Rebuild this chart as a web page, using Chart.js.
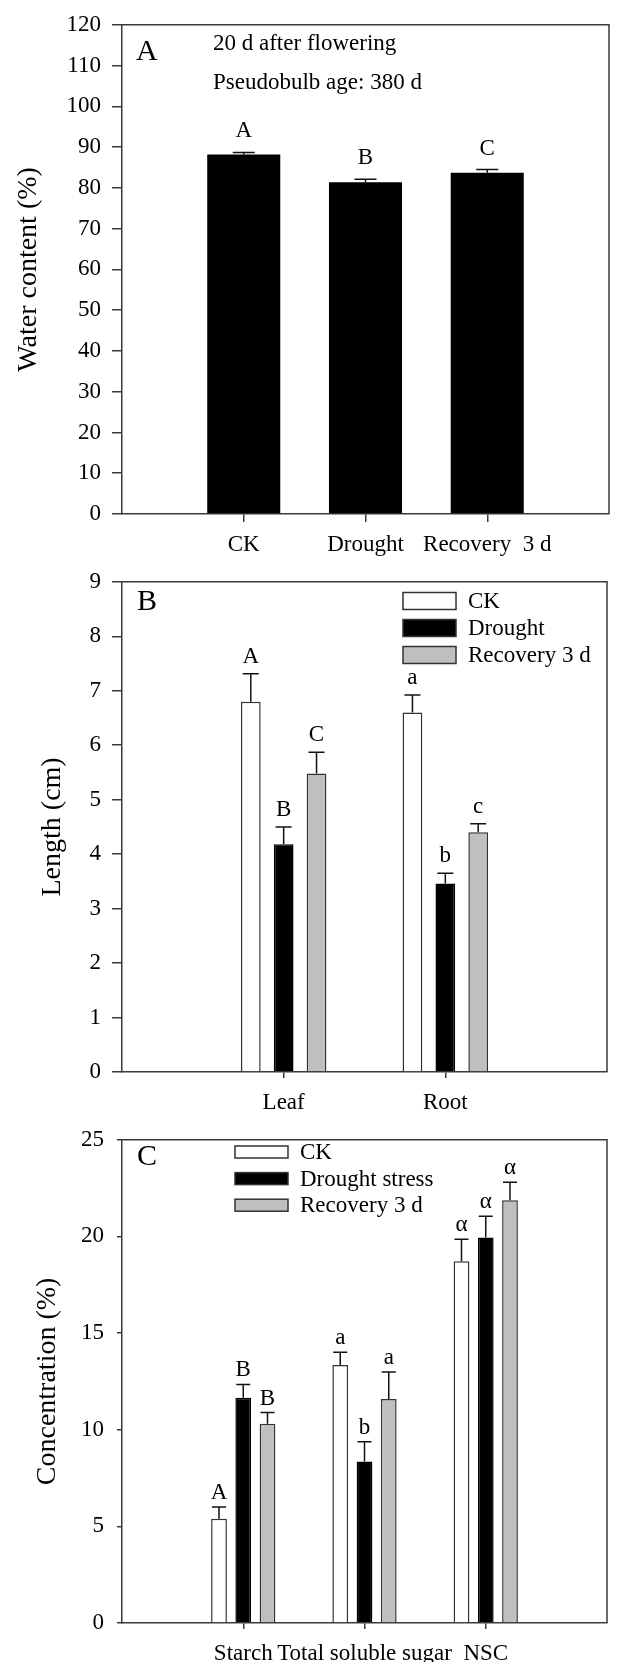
<!DOCTYPE html>
<html>
<head>
<meta charset="utf-8">
<script src="https://cdn.jsdelivr.net/npm/chart.js@4.4.1/dist/chart.umd.min.js"></script>
<style>
  html, body { margin: 0; padding: 0; background: #fff; }
  #wrap { position: relative; width: 618px; height: 1662px; overflow: hidden; }
  canvas { position: absolute; left: 0; }
</style>
</head>
<body>
<div id="wrap">
  <canvas id="chartA" width="618" height="557" style="top:0px"></canvas>
  <canvas id="chartB" width="618" height="556" style="top:557px"></canvas>
  <canvas id="chartC" width="618" height="549" style="top:1113px"></canvas>
</div>
<script>
// ---- panel A: pseudobulb water content ----
const waterCategories = ['', 'CK', 'Drought', 'Recovery  3 d', ''];
const waterValues = [null, 88.2, 81.4, 83.7, null];
const waterErrors = [null, 0.5, 0.7, 0.8, null];
const waterLetters = [null, 'A', 'B', 'C', null];
const waterTicks = [0, 10, 20, 30, 40, 50, 60, 70, 80, 90, 100, 110, 120];

// ---- panel B: leaf / root length ----
const organCategories = ['', 'Leaf', 'Root', ''];
const lengthCK = [null, 6.80, 6.60, null];
const lengthCKErr = [null, 0.51, 0.32, null];
const lengthDrought = [null, 4.18, 3.46, null];
const lengthDroughtErr = [null, 0.32, 0.19, null];
const lengthRecovery = [null, 5.48, 4.40, null];
const lengthRecoveryErr = [null, 0.39, 0.16, null];
const lengthLettersCK = [null, 'A', 'a', null];
const lengthLettersDrought = [null, 'B', 'b', null];
const lengthLettersRecovery = [null, 'C', 'c', null];
const lengthTicks = [0, 1, 2, 3, 4, 5, 6, 7, 8, 9];

// ---- panel C: carbohydrate concentration ----
const carbCategories = ['', 'Starch', 'Total soluble sugar', 'NSC', ''];
const concCK = [null, 5.40, 13.35, 18.72, null];
const concCKErr = [null, 0.60, 0.66, 1.14, null];
const concDrought = [null, 11.65, 8.35, 19.94, null];
const concDroughtErr = [null, 0.69, 1.03, 1.10, null];
const concRecovery = [null, 10.31, 11.59, 21.87, null];
const concRecoveryErr = [null, 0.58, 1.39, 0.94, null];
const concLettersCK = [null, 'A', 'a', 'α', null];
const concLettersDrought = [null, 'B', 'b', 'α', null];
const concLettersRecovery = [null, 'B', 'a', 'α', null];
const concTicks = [0, 5, 10, 15, 20, 25];

const SERIF = "'Liberation Serif', 'Times New Roman', serif";
const AXIS_COLOR = '#3a3a3a';
Chart.defaults.font.family = SERIF;
Chart.defaults.color = '#000';

// error bars + significance letters, drawn from bar elements and the y scale
const errorBarPlugin = {
    id: 'errorBars',
    afterDatasetsDraw(chart, args, opts) {
        const ctx = chart.ctx;
        const yScale = chart.scales.y;
        chart.data.datasets.forEach((ds, di) => {
            const meta = chart.getDatasetMeta(di);
            meta.data.forEach((bar, i) => {
                const v = ds.data[i];
                if (v == null) return;
                const yTop = yScale.getPixelForValue(v + ds.errors[i]);
                ctx.save();
                ctx.strokeStyle = '#111';
                ctx.lineWidth = 1.5;
                ctx.beginPath();
                ctx.moveTo(bar.x, bar.y);
                ctx.lineTo(bar.x, yTop);
                ctx.moveTo(bar.x - opts.capWidth / 2, yTop);
                ctx.lineTo(bar.x + opts.capWidth / 2, yTop);
                ctx.stroke();
                if (ds.letters[i]) {
                    ctx.fillStyle = '#000';
                    ctx.font = opts.font;
                    ctx.textAlign = 'center';
                    ctx.textBaseline = 'alphabetic';
                    ctx.fillText(ds.letters[i], bar.x, yTop - opts.letterGap);
                }
                ctx.restore();
            });
        });
    }
};

// top and right edges of the plot box
const framePlugin = {
    id: 'frame',
    afterDraw(chart) {
        const { left, top, right, bottom } = chart.chartArea;
        const ctx = chart.ctx;
        ctx.save();
        ctx.strokeStyle = AXIS_COLOR;
        ctx.lineWidth = 1.5;
        ctx.beginPath();
        ctx.moveTo(left, top);
        ctx.lineTo(right, top);
        ctx.lineTo(right, bottom);
        ctx.stroke();
        ctx.restore();
    }
};

// free text inside the panel (panel letter, notes)
const notesPlugin = {
    id: 'notes',
    afterDraw(chart, args, opts) {
        const ctx = chart.ctx;
        (opts.items || []).forEach(it => {
            ctx.save();
            ctx.fillStyle = '#000';
            ctx.font = it.font;
            ctx.textAlign = 'left';
            ctx.textBaseline = 'middle';
            ctx.fillText(it.text, it.x, it.y);
            ctx.restore();
        });
    }
};

// vertical legend inside the plot box
const boxLegendPlugin = {
    id: 'boxLegend',
    afterDraw(chart, args, opts) {
        if (!opts.show) return;
        const ctx = chart.ctx;
        chart.data.datasets.forEach((ds, i) => {
            const cy = opts.y + i * opts.step;
            ctx.save();
            ctx.fillStyle = ds.backgroundColor;
            ctx.fillRect(opts.x, cy - opts.boxH / 2, opts.boxW, opts.boxH);
            ctx.strokeStyle = '#333';
            ctx.lineWidth = 1.5;
            ctx.strokeRect(opts.x, cy - opts.boxH / 2, opts.boxW, opts.boxH);
            ctx.fillStyle = '#000';
            ctx.font = opts.font;
            ctx.textAlign = 'left';
            ctx.textBaseline = 'middle';
            ctx.fillText(ds.label, opts.x + opts.boxW + 12, cy + 1);
            ctx.restore();
        });
    }
};

function buildOptions(p) {
    return {
        responsive: false,
        animation: false,
        layout: { padding: { left: 0, right: 1, top: p.top, bottom: 0 } },
        plugins: {
            legend: { display: false },
            tooltip: { enabled: false },
            errorBars: { capWidth: p.capWidth, letterGap: p.letterGap, font: '23px ' + SERIF },
            notes: { items: p.notes },
            boxLegend: p.legend || { show: false }
        },
        scales: {
            x: {
                offset: false,
                grid: {
                    offset: false,
                    drawOnChartArea: false,
                    tickLength: p.xTick,
                    lineWidth: 1.5,
                    color: c => (c.index === 0 || c.index === p.categoryCount - 1) ? 'rgba(0,0,0,0)' : AXIS_COLOR
                },
                border: { display: true, color: AXIS_COLOR, width: 1.5 },
                ticks: { autoSkip: false, maxRotation: 0, padding: p.xPad, font: { size: 23 } },
                afterFit: s => { s.height = p.height - p.bottom; }
            },
            y: {
                min: p.ticks[0],
                max: p.ticks[p.ticks.length - 1],
                afterBuildTicks: s => { s.ticks = p.ticks.map(v => ({ value: v })); },
                grid: { drawOnChartArea: false, tickLength: p.yTick, lineWidth: 1.5, color: AXIS_COLOR },
                border: { display: true, color: AXIS_COLOR, width: 1.5 },
                ticks: { padding: p.yPad, font: { size: 23 } },
                title: { display: true, text: p.yTitle, font: { size: 28 }, padding: { top: p.titlePad, bottom: 0 } },
                afterFit: s => { s.width = 122; }
            }
        }
    };
}

function seriesBar(label, data, errors, letters, fill, border) {
    return {
        label: label, data: data, errors: errors, letters: letters,
        backgroundColor: fill, borderColor: border, borderWidth: 1.5,
        categoryPercentage: 0.6, barPercentage: 0.6
    };
}

new Chart(document.getElementById('chartA'), {
    type: 'bar',
    data: {
        labels: waterCategories,
        datasets: [{
            label: 'Water content', data: waterValues, errors: waterErrors, letters: waterLetters,
            backgroundColor: '#000', borderWidth: 0, categoryPercentage: 0.6, barPercentage: 1
        }]
    },
    options: buildOptions({
        height: 557, top: 20, bottom: 514, ticks: waterTicks, categoryCount: waterCategories.length,
        yTitle: 'Water content (%)', titlePad: 12, xTick: 8, yTick: 10, xPad: 9, yPad: 11,
        capWidth: 22, letterGap: 15,
        notes: [
            { text: 'A', x: 136, y: 52, font: '30px ' + SERIF },
            { text: '20 d after flowering', x: 213, y: 44, font: '23px ' + SERIF },
            { text: 'Pseudobulb age: 380 d', x: 213, y: 83, font: '23px ' + SERIF }
        ]
    }),
    plugins: [errorBarPlugin, framePlugin, notesPlugin, boxLegendPlugin]
});

new Chart(document.getElementById('chartB'), {
    type: 'bar',
    data: {
        labels: organCategories,
        datasets: [
            seriesBar('CK', lengthCK, lengthCKErr, lengthLettersCK, '#fff', '#333'),
            seriesBar('Drought', lengthDrought, lengthDroughtErr, lengthLettersDrought, '#000', '#000'),
            seriesBar('Recovery 3 d', lengthRecovery, lengthRecoveryErr, lengthLettersRecovery, '#bfbfbf', '#333')
        ].map(d => Object.assign(d, { categoryPercentage: 0.61, barPercentage: 0.6 }))
    },
    options: buildOptions({
        height: 556, top: 20, bottom: 515, ticks: lengthTicks, categoryCount: organCategories.length,
        yTitle: 'Length (cm)', titlePad: 36, xTick: 6, yTick: 10, xPad: 11, yPad: 11,
        capWidth: 16, letterGap: 11,
        notes: [{ text: 'B', x: 137, y: 45, font: '30px ' + SERIF }],
        legend: { show: true, x: 403, y: 44, step: 27, boxW: 53, boxH: 17, font: '23px ' + SERIF }
    }),
    plugins: [errorBarPlugin, framePlugin, notesPlugin, boxLegendPlugin]
});

new Chart(document.getElementById('chartC'), {
    type: 'bar',
    data: {
        labels: carbCategories,
        datasets: [
            seriesBar('CK', concCK, concCKErr, concLettersCK, '#fff', '#333'),
            seriesBar('Drought stress', concDrought, concDroughtErr, concLettersDrought, '#000', '#000'),
            seriesBar('Recovery 3 d', concRecovery, concRecoveryErr, concLettersRecovery, '#bfbfbf', '#333')
        ].map(d => Object.assign(d, { categoryPercentage: 0.6, barPercentage: 0.65 }))
    },
    options: buildOptions({
        height: 549, top: 15, bottom: 510, ticks: concTicks, categoryCount: carbCategories.length,
        yTitle: 'Concentration (%)', titlePad: 31, xTick: 6, yTick: 5, xPad: 11, yPad: 13,
        capWidth: 14, letterGap: 8,
        notes: [{ text: 'C', x: 137, y: 44, font: '30px ' + SERIF }],
        legend: { show: true, x: 235, y: 39, step: 26.6, boxW: 53, boxH: 12, font: '23px ' + SERIF }
    }),
    plugins: [errorBarPlugin, framePlugin, notesPlugin, boxLegendPlugin]
});
</script>
</body>
</html>
